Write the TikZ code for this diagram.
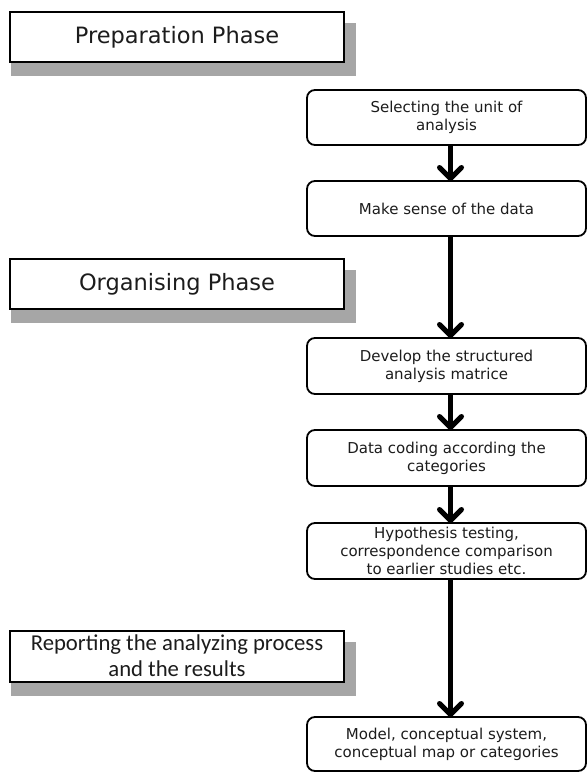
\documentclass[tikz,border=0pt]{standalone}
\usepackage{fontspec}
\setmainfont{DejaVu Sans}
\newfontfamily\reportfont{Carlito}
\usetikzlibrary{arrows.meta,calc,backgrounds}
\definecolor{shadowgray}{HTML}{A6A6A6}
\definecolor{inkgray}{HTML}{1C1C1C}

\begin{document}
\begin{tikzpicture}[x=1pt,y=-1pt,
  phase/.style={draw=black, line width=2pt, fill=white, rectangle,
    minimum width=334pt, minimum height=50pt, inner sep=0pt, outer sep=0pt,
    align=center, text=inkgray, font=\fontsize{22.5}{26}\selectfont},
  stepbox/.style={draw=black, line width=1.8pt, fill=white, rounded corners=8pt,
    minimum width=279pt, minimum height=55pt, inner sep=0pt, outer sep=0pt,
    align=center, text=inkgray, font=\fontsize{15}{17.8}\selectfont},
  flow/.style={line width=5pt, -{Straight Barb[length=11pt,width=22pt,round]}},
  dropshadow/.style={fill=shadowgray}
]
\useasboundingbox (0,0) rectangle (587,772);

% phase headings on the left
\node[phase] (prep) at (177,37) {Preparation Phase};
\node[phase] (organ) at (177,284) {Organising Phase};
\node[phase, minimum height=51pt, font=\reportfont\fontsize{22.7}{26}\selectfont]
  (report) at (177,656) {Reporting the analyzing process\\and the results};

% drop shadows behind the phase headings
\begin{scope}[on background layer]
  \foreach \p in {prep,organ,report}
    \fill[dropshadow] ($(\p.north west)+(1,11)$) rectangle ($(\p.south east)+(12,14)$);
\end{scope}

% process steps on the right
\node[stepbox] (s1) at (446.5,117.5) {Selecting the unit of\\analysis};
\node[stepbox] (s2) at (446.5,208.5) {Make sense of the data};
\node[stepbox, minimum height=56pt] (s3) at (446.5,366) {Develop the structured\\analysis matrice};
\node[stepbox, minimum height=56pt] (s4) at (446.5,458) {Data coding according the\\categories};
\node[stepbox, minimum height=56pt] (s5) at (446.5,551) {Hypothesis testing,\\correspondence comparison\\to earlier studies etc.};
\node[stepbox, minimum height=54pt] (s6) at (446.5,744) {Model, conceptual system,\\conceptual map or categories};

% flow arrows between the steps
\foreach \a/\b in {s1/s2,s2/s3,s3/s4,s4/s5,s5/s6}
  \draw[flow] ([xshift=4pt]\a.south) -- ([xshift=4pt]\b.north);
\end{tikzpicture}
\end{document}
